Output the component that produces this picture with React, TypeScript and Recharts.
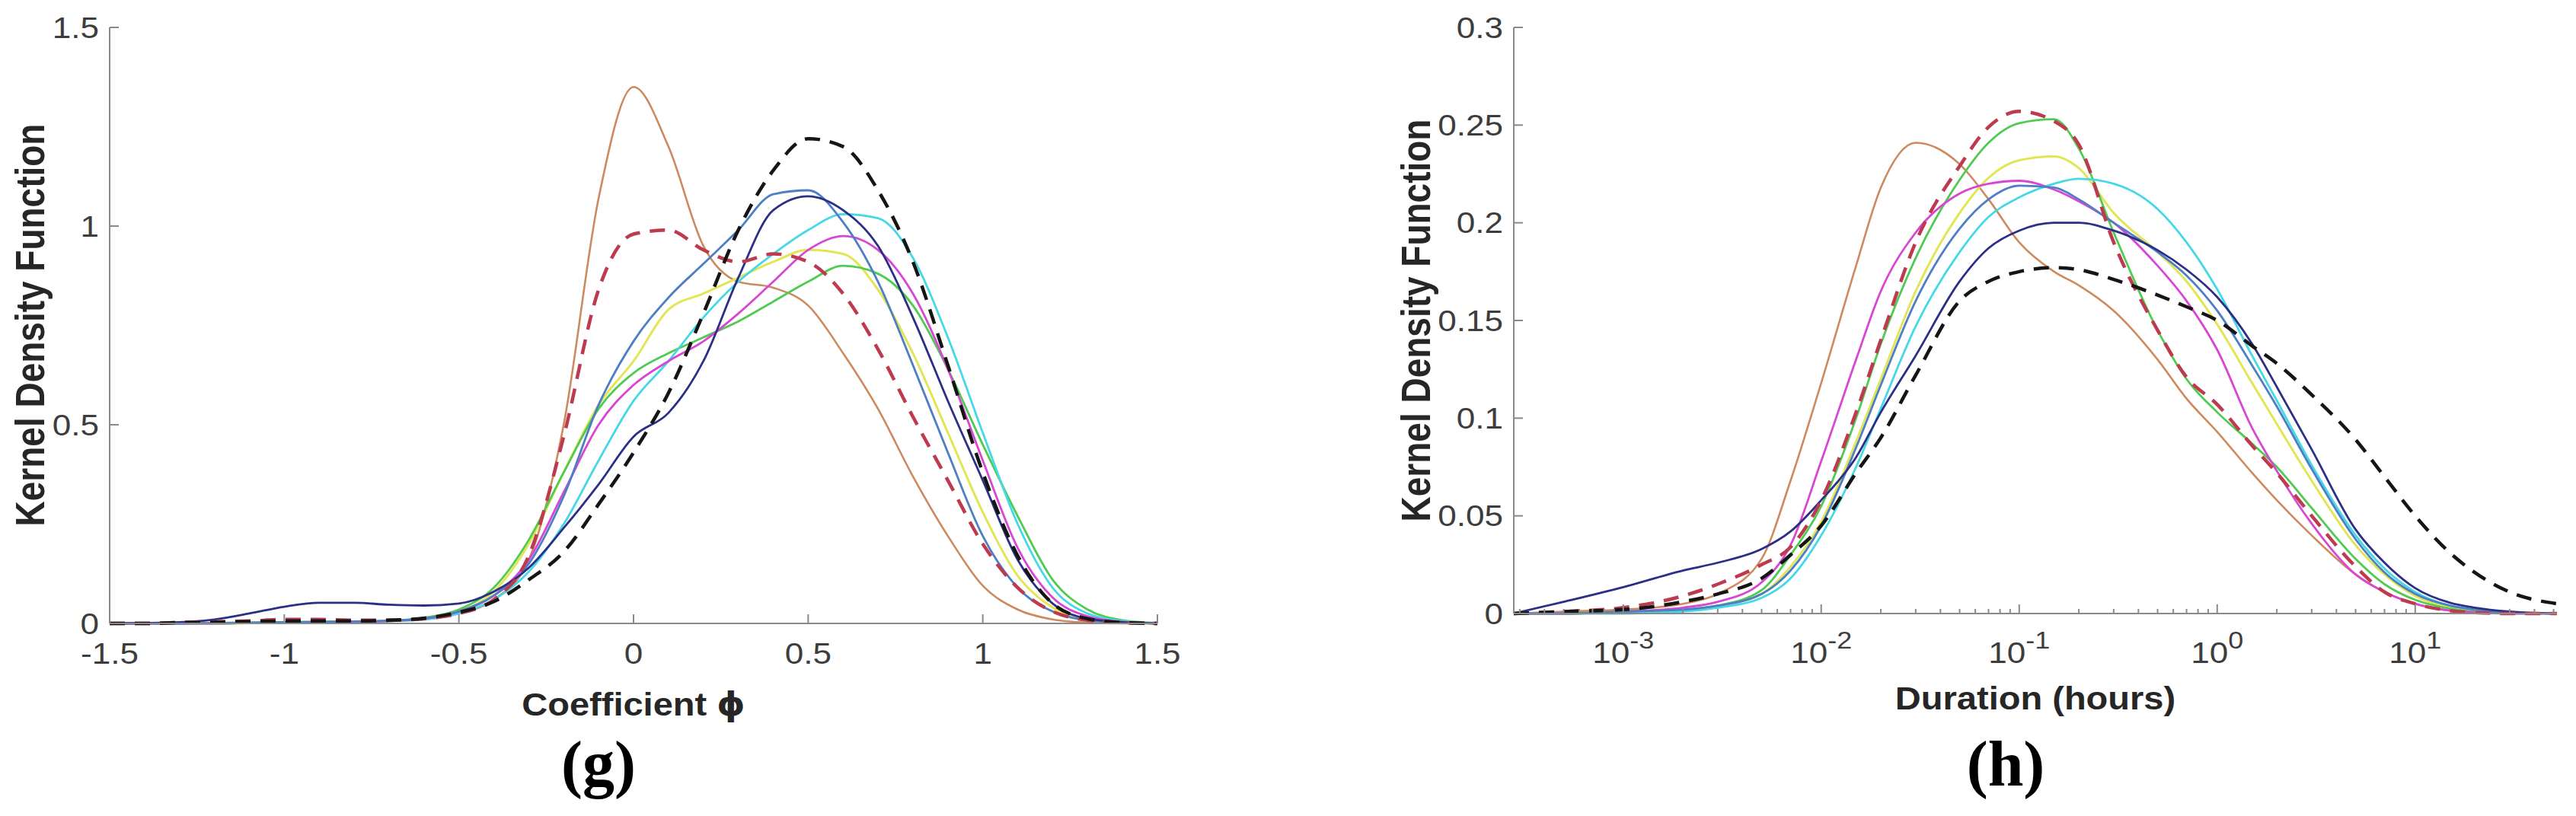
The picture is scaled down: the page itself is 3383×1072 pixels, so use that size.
import React from "react";
import { LineChart, Line, XAxis, YAxis } from "recharts";

// ---- panel (g): Coefficient phi ----
const phiValues = [-1.5, -1.4, -1.3, -1.2, -1.1, -1.0, -0.9, -0.8, -0.7, -0.6, -0.5, -0.4, -0.3, -0.2, -0.1, 0, 0.1, 0.2, 0.3, 0.4, 0.5, 0.6, 0.7, 0.8, 0.9, 1.0, 1.1, 1.2, 1.3, 1.4, 1.5];
const phiOrange = [0, 0, 0, 0.001, 0.002, 0.003, 0.004, 0.004, 0.006, 0.01, 0.025, 0.06, 0.16, 0.5, 1.07, 1.35, 1.2, 0.95, 0.86, 0.845, 0.8, 0.68, 0.54, 0.37, 0.22, 0.095, 0.035, 0.01, 0.002, 0, 0];
const phiRed = [0, 0, 0.002, 0.004, 0.006, 0.01, 0.01, 0.008, 0.008, 0.012, 0.025, 0.06, 0.17, 0.47, 0.84, 0.98, 0.99, 0.94, 0.91, 0.93, 0.91, 0.83, 0.69, 0.52, 0.36, 0.2, 0.09, 0.03, 0.008, 0.002, 0];
const phiBlack = [0, 0, 0.002, 0.003, 0.005, 0.006, 0.006, 0.006, 0.008, 0.013, 0.028, 0.055, 0.11, 0.18, 0.3, 0.43, 0.58, 0.78, 0.99, 1.14, 1.22, 1.2, 1.09, 0.91, 0.65, 0.38, 0.17, 0.05, 0.012, 0.002, 0];
const phiSteel = [0, 0, 0, 0.001, 0.002, 0.003, 0.004, 0.005, 0.007, 0.012, 0.03, 0.07, 0.15, 0.32, 0.55, 0.71, 0.82, 0.905, 0.99, 1.08, 1.09, 1.01, 0.86, 0.65, 0.43, 0.22, 0.09, 0.03, 0.008, 0.002, 0];
const phiYellow = [0, 0, 0, 0, 0.001, 0.002, 0.003, 0.004, 0.006, 0.012, 0.03, 0.08, 0.2, 0.38, 0.55, 0.66, 0.79, 0.83, 0.87, 0.91, 0.94, 0.93, 0.84, 0.68, 0.48, 0.28, 0.12, 0.04, 0.01, 0.002, 0];
const phiGreen = [0, 0, 0, 0, 0.001, 0.002, 0.003, 0.004, 0.006, 0.014, 0.035, 0.09, 0.21, 0.38, 0.54, 0.63, 0.68, 0.72, 0.76, 0.81, 0.86, 0.9, 0.88, 0.8, 0.64, 0.45, 0.27, 0.11, 0.035, 0.008, 0.001];
const phiMagenta = [0, 0, 0, 0, 0.001, 0.002, 0.003, 0.004, 0.006, 0.012, 0.03, 0.07, 0.16, 0.33, 0.5, 0.6, 0.66, 0.71, 0.78, 0.86, 0.94, 0.975, 0.94, 0.83, 0.64, 0.41, 0.19, 0.065, 0.018, 0.004, 0];
const phiCyan = [0, 0, 0, 0, 0.001, 0.002, 0.003, 0.004, 0.006, 0.01, 0.025, 0.06, 0.13, 0.25, 0.41, 0.56, 0.66, 0.77, 0.86, 0.93, 0.99, 1.03, 1.02, 0.92, 0.72, 0.48, 0.25, 0.09, 0.025, 0.006, 0];
const phiNavy = [0, 0.001, 0.003, 0.01, 0.025, 0.042, 0.052, 0.052, 0.047, 0.045, 0.05, 0.08, 0.14, 0.24, 0.35, 0.47, 0.53, 0.66, 0.87, 1.04, 1.075, 1.04, 0.95, 0.77, 0.56, 0.36, 0.16, 0.05, 0.012, 0.003, 0];

const phiTicks = [-1.5, -1, -0.5, 0, 0.5, 1, 1.5];
const phiDensityTicks = [0, 0.5, 1, 1.5];

// ---- panel (h): Duration (hours) ----
const durationHours = [0.00028, 0.0005, 0.001, 0.002, 0.003, 0.005, 0.007, 0.01, 0.015, 0.02, 0.03, 0.05, 0.07, 0.1, 0.15, 0.2, 0.3, 0.5, 0.7, 1, 1.5, 2, 3, 5, 7, 10, 15, 20, 30, 52];
const durOrange = [0, 0.001, 0.002, 0.005, 0.01, 0.028, 0.068, 0.118, 0.178, 0.218, 0.241, 0.23, 0.212, 0.19, 0.175, 0.168, 0.155, 0.13, 0.11, 0.093, 0.072, 0.058, 0.04, 0.02, 0.011, 0.005, 0.0015, 0.0005, 0, 0];
const durRed = [0, 0.001, 0.003, 0.009, 0.015, 0.025, 0.034, 0.058, 0.103, 0.14, 0.19, 0.229, 0.249, 0.257, 0.252, 0.24, 0.19, 0.145, 0.121, 0.107, 0.086, 0.072, 0.05, 0.024, 0.011, 0.005, 0.0015, 0.0005, 0, 0];
const durGreen = [0, 0, 0.001, 0.002, 0.004, 0.012, 0.03, 0.055, 0.1, 0.138, 0.182, 0.222, 0.241, 0.251, 0.253, 0.238, 0.195, 0.145, 0.12, 0.103, 0.087, 0.075, 0.054, 0.028, 0.015, 0.007, 0.0025, 0.001, 0.0002, 0];
const durYellow = [0, 0, 0.001, 0.002, 0.004, 0.01, 0.024, 0.047, 0.088, 0.12, 0.165, 0.205, 0.223, 0.232, 0.234, 0.228, 0.205, 0.185, 0.17, 0.148, 0.118, 0.097, 0.068, 0.035, 0.02, 0.009, 0.003, 0.0013, 0.0003, 0];
const durMagenta = [0, 0, 0.001, 0.003, 0.006, 0.016, 0.035, 0.078, 0.13, 0.165, 0.195, 0.215, 0.22, 0.2215, 0.217, 0.211, 0.2, 0.178, 0.16, 0.135, 0.095, 0.073, 0.046, 0.02, 0.011, 0.005, 0.0015, 0.0006, 0, 0];
const durSteel = [0, 0, 0.001, 0.002, 0.004, 0.01, 0.022, 0.045, 0.085, 0.117, 0.16, 0.197, 0.212, 0.219, 0.218, 0.212, 0.2, 0.185, 0.173, 0.155, 0.127, 0.106, 0.074, 0.038, 0.021, 0.01, 0.004, 0.002, 0.0005, 0];
const durCyan = [0, 0, 0, 0.001, 0.003, 0.008, 0.018, 0.04, 0.075, 0.105, 0.147, 0.185, 0.203, 0.213, 0.22, 0.2225, 0.22, 0.207, 0.19, 0.166, 0.132, 0.109, 0.076, 0.04, 0.023, 0.011, 0.004, 0.002, 0.0005, 0];
const durNavy = [0, 0.006, 0.0135, 0.022, 0.026, 0.033, 0.042, 0.058, 0.08, 0.103, 0.132, 0.17, 0.187, 0.196, 0.2, 0.2, 0.196, 0.186, 0.176, 0.162, 0.138, 0.116, 0.084, 0.043, 0.026, 0.013, 0.0055, 0.003, 0.001, 0];
const durBlack = [0, 0.001, 0.002, 0.006, 0.01, 0.018, 0.03, 0.045, 0.072, 0.09, 0.122, 0.16, 0.17, 0.175, 0.177, 0.176, 0.171, 0.163, 0.157, 0.15, 0.137, 0.128, 0.112, 0.089, 0.07, 0.05, 0.031, 0.021, 0.011, 0.005];

const durMajorTicks = [0.001, 0.01, 0.1, 1, 10];
const durMajorExponents = ["-3", "-2", "-1", "0", "1"];
const durDomain = [0.00028, 52];
const durMinorTicks = [0.0001, 0.001, 0.01, 0.1, 1, 10]
  .flatMap((d) => [2, 3, 4, 5, 6, 7, 8, 9].map((m) => m * d))
  .filter((v) => v >= durDomain[0] && v <= durDomain[1]);
const durDensityTicks = [0, 0.05, 0.1, 0.15, 0.2, 0.25, 0.3];

// draw order and line styles
const STYLES = [
  { key: "orange", color: "#CD8A5F", width: 2.6 },
  { key: "yellow", color: "#E2E655", width: 3 },
  { key: "green", color: "#4FCB52", width: 2.8 },
  { key: "cyan", color: "#45D8E6", width: 2.8 },
  { key: "magenta", color: "#D847D3", width: 2.8 },
  { key: "steel", color: "#4E7FC4", width: 2.8 },
  { key: "navy", color: "#2C2F86", width: 2.8 },
  { key: "red", color: "#BE3A4F", width: 4.5, dash: "20 13" },
  { key: "black", color: "#151515", width: 4.5, dash: "20 13" },
];

const phiSeries = { orange: phiOrange, yellow: phiYellow, green: phiGreen, cyan: phiCyan, magenta: phiMagenta, steel: phiSteel, navy: phiNavy, red: phiRed, black: phiBlack };
const durSeries = { orange: durOrange, yellow: durYellow, green: durGreen, cyan: durCyan, magenta: durMagenta, steel: durSteel, navy: durNavy, red: durRed, black: durBlack };

function buildRows(xs: number[], xKey: string, series: Record<string, number[]>) {
  return xs.map((x, i) => {
    const row: Record<string, number> = { [xKey]: x };
    for (const k of Object.keys(series)) row[k] = series[k][i];
    return row;
  });
}

const phiData = buildRows(phiValues, "phi", phiSeries);
const durData = buildRows(durationHours, "hours", durSeries);

const FONT = "'Liberation Sans', Arial, Helvetica, sans-serif";
const AXIS_GRAY = "#8a8a8a";
const TICK_TEXT = "#3d3d3d";
const TITLE_TEXT = "#262626";
const SX = 1.16;

function LinearXTick(props: any) {
  const { x, y, payload } = props;
  return (
    <g>
      <line x1={x} y1={y} x2={x} y2={y - 12} stroke={AXIS_GRAY} strokeWidth={2} />
      <text transform={`translate(${x},${y + 53}) scale(${SX},1)`} textAnchor="middle" fontSize={38} fontFamily={FONT} fill={TICK_TEXT}>
        {String(payload.value)}
      </text>
    </g>
  );
}

function LogXTick(props: any) {
  const { x, y, payload } = props;
  const idx = durMajorTicks.indexOf(payload.value);
  if (idx < 0) {
    return <line x1={x} y1={y} x2={x} y2={y - 6} stroke={AXIS_GRAY} strokeWidth={2} />;
  }
  return (
    <g>
      <line x1={x} y1={y} x2={x} y2={y - 12} stroke={AXIS_GRAY} strokeWidth={2} />
      <text transform={`translate(${x},${y + 65}) scale(${SX},1)`} textAnchor="middle" fontSize={38} fontFamily={FONT} fill={TICK_TEXT}>
        10
        <tspan dy={-19} fontSize={31}>{durMajorExponents[idx]}</tspan>
      </text>
    </g>
  );
}

function YTick(props: any) {
  const { x, y, payload } = props;
  return (
    <g>
      <line x1={x} y1={y} x2={x + 12} y2={y} stroke={AXIS_GRAY} strokeWidth={2} />
      <text transform={`translate(${x - 14},${y}) scale(${SX},1)`} textAnchor="end" dy="0.36em" fontSize={38} fontFamily={FONT} fill={TICK_TEXT}>
        {String(payload.value)}
      </text>
    </g>
  );
}

function seriesLines() {
  return STYLES.map((s) => (
    <Line
      key={s.key}
      dataKey={s.key}
      type="monotone"
      stroke={s.color}
      strokeWidth={s.width}
      strokeDasharray={s.dash}
      dot={false}
      activeDot={false}
      isAnimationActive={false}
    />
  ));
}

const axisLine = { stroke: AXIS_GRAY, strokeWidth: 2 };

export default function App() {
  return (
    <div style={{ position: "absolute", left: 0, top: 0, width: 3383, height: 1072, overflow: "hidden", background: "#fff" }}>
      <div style={{ position: "absolute", left: 0, top: 0 }}>
        <LineChart width={1600} height={1072} data={phiData} margin={{ top: 36, right: 80, bottom: 0, left: 0 }}>
          <XAxis dataKey="phi" type="number" domain={[-1.5, 1.5]} ticks={phiTicks} interval={0} height={253} axisLine={axisLine} tickLine={false} tickSize={0} tickMargin={0} tick={<LinearXTick />} />
          <YAxis type="number" domain={[0, 1.5]} ticks={phiDensityTicks} interval={0} width={144} axisLine={axisLine} tickLine={false} tickSize={0} tickMargin={0} tick={<YTick />} />
          {seriesLines()}
        </LineChart>
      </div>
      <div style={{ position: "absolute", left: 1600, top: 0 }}>
        <LineChart width={1783} height={1072} data={durData} margin={{ top: 36, right: 25, bottom: 0, left: 0 }}>
          <XAxis dataKey="hours" type="number" scale="log" domain={durDomain} allowDataOverflow ticks={[...durMinorTicks, ...durMajorTicks]} interval={0} height={266} axisLine={axisLine} tickLine={false} tickSize={0} tickMargin={0} tick={<LogXTick />} />
          <YAxis type="number" domain={[0, 0.3]} ticks={durDensityTicks} interval={0} width={388} axisLine={axisLine} tickLine={false} tickSize={0} tickMargin={0} tick={<YTick />} />
          {seriesLines()}
        </LineChart>
      </div>
      <svg width={3383} height={1072} style={{ position: "absolute", left: 0, top: 0, pointerEvents: "none" }}>
        <g fontFamily={FONT} fontWeight="bold" fill={TITLE_TEXT} fontSize={46}>
          <text transform={`translate(38.5,427) scale(${SX},1) rotate(-90)`} textAnchor="middle" dy="0.36em">Kernel Density Function</text>
          <text transform={`translate(1858.5,421) scale(${SX},1) rotate(-90)`} textAnchor="middle" dy="0.36em">Kernel Density Function</text>
        </g>
        <g fontFamily={FONT} fontWeight="bold" fill={TITLE_TEXT} fontSize={42}>
          <text transform={`translate(832,940) scale(1.12,1)`} textAnchor="middle">
            Coefficient <tspan fontFamily="'DejaVu Sans', sans-serif">ϕ</tspan>
          </text>
          <text transform={`translate(2673,932) scale(1.12,1)`} textAnchor="middle">Duration (hours)</text>
        </g>
        <g fontFamily="'Liberation Serif', 'Times New Roman', serif" fontWeight="bold" fill="#000" fontSize={84}>
          <text x={786} y={1032} textAnchor="middle">(g)</text>
          <text x={2634} y={1032} textAnchor="middle">(h)</text>
        </g>
      </svg>
    </div>
  );
}
